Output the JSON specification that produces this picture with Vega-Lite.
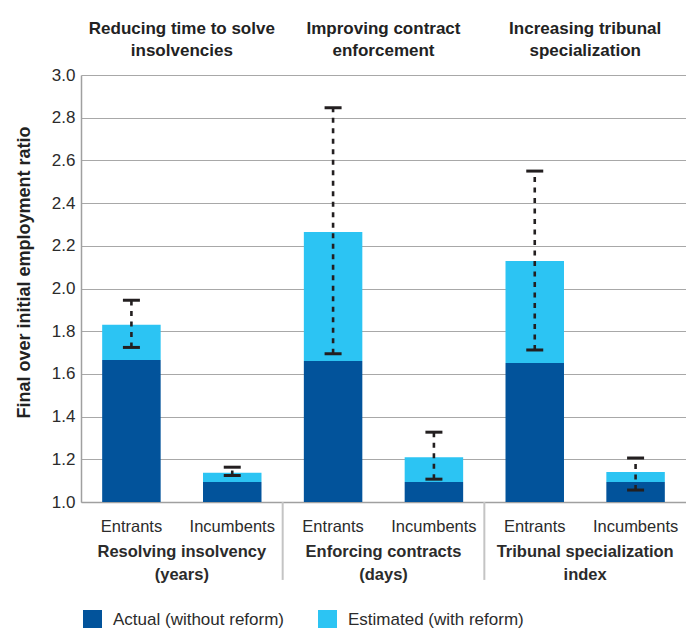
{
  "$schema": "https://vega.github.io/schema/vega-lite/v6.json",
  "autosize": {"type": "none"},
  "width": 605,
  "height": 427,
  "padding": {"left": 81, "top": 75, "right": 0, "bottom": 126},
  "config": {
    "font": "Liberation Sans",
    "view": {"stroke": null},
    "axis": {"domainColor": "#a0a0a0", "gridColor": "#a8a8a8", "labelColor": "#2b2b2b", "titleColor": "#222222"},
    "axisX": {"grid": false, "ticks": false, "labelFontSize": 16.5, "labelFontWeight": "bold", "labelPadding": 54, "labelBaseline": "alphabetic", "labelLineHeight": 23, "labelAngle": 0, "labelLimit": 0, "domainWidth": 1.5},
    "axisY": {"grid": true, "ticks": false, "labelFontSize": 17, "labelPadding": 6, "titleFontSize": 18, "titleFontWeight": "bold", "titlePadding": 18, "titleY": 197, "tickCount": 10, "domainWidth": 1.5}
  },
  "data": {
    "values": [
      {"metric": "Resolving insolvency|(years)", "header": "Reducing time to solve|insolvencies", "firm": "Entrants", "actual": 1.665, "estimated": 1.83, "low": 1.724, "high": 1.945},
      {"metric": "Resolving insolvency|(years)", "header": "Reducing time to solve|insolvencies", "firm": "Incumbents", "actual": 1.094, "estimated": 1.137, "low": 1.124, "high": 1.163},
      {"metric": "Enforcing contracts|(days)", "header": "Improving contract|enforcement", "firm": "Entrants", "actual": 1.66, "estimated": 2.265, "low": 1.694, "high": 2.847},
      {"metric": "Enforcing contracts|(days)", "header": "Improving contract|enforcement", "firm": "Incumbents", "actual": 1.094, "estimated": 1.21, "low": 1.107, "high": 1.327},
      {"metric": "Tribunal specialization|index", "header": "Increasing tribunal|specialization", "firm": "Entrants", "actual": 1.651, "estimated": 2.129, "low": 1.712, "high": 2.55},
      {"metric": "Tribunal specialization|index", "header": "Increasing tribunal|specialization", "firm": "Incumbents", "actual": 1.094, "estimated": 1.14, "low": 1.056, "high": 1.206}
    ]
  },
  "encoding": {
    "x": {
      "field": "metric", "type": "nominal",
      "scale": {"domain": ["Resolving insolvency|(years)", "Enforcing contracts|(days)", "Tribunal specialization|index"], "paddingInner": 0, "paddingOuter": 0},
      "axis": {"title": null, "labelExpr": "split(datum.label, '|')"}
    }
  },
  "layer": [
    {
      "mark": {"type": "bar"},
      "encoding": {
        "xOffset": {"field": "firm", "type": "nominal", "sort": ["Entrants", "Incumbents"], "scale": {"paddingInner": 0.42, "paddingOuter": 0.21}},
        "y": {"field": "estimated", "type": "quantitative", "scale": {"domain": [1, 3]}, "axis": {"title": "Final over initial employment ratio", "format": ".1f"}},
        "y2": {"field": "actual"},
        "color": {"datum": "Estimated (with reform)", "scale": {"domain": ["Actual (without reform)", "Estimated (with reform)"], "range": ["#02539b", "#2cc4f3"]},
          "legend": {"orient": "none", "legendX": 2, "legendY": 535, "direction": "horizontal", "columns": 2, "title": null, "symbolType": "square", "symbolSize": 361, "symbolStrokeWidth": 0, "labelFontSize": 17, "labelColor": "#2b2b2b", "labelOffset": 11, "labelLimit": 0, "columnPadding": 34, "padding": 0}}
      }
    },
    {
      "mark": {"type": "bar"},
      "encoding": {
        "xOffset": {"field": "firm", "type": "nominal", "sort": ["Entrants", "Incumbents"]},
        "y": {"field": "actual", "type": "quantitative", "scale": {"domain": [1, 3]}, "axis": {"title": "Final over initial employment ratio", "format": ".1f"}},
        "y2": {"datum": 1},
        "color": {"datum": "Actual (without reform)"}
      }
    },
    {
      "mark": {"type": "rule", "color": "#231f20", "strokeWidth": 2.6, "strokeDash": [5, 5.5]},
      "encoding": {
        "xOffset": {"field": "firm", "type": "nominal", "sort": ["Entrants", "Incumbents"]},
        "y": {"field": "low", "type": "quantitative", "scale": {"domain": [1, 3]}, "axis": {"title": "Final over initial employment ratio", "format": ".1f"}},
        "y2": {"field": "high"}
      }
    },
    {
      "mark": {"type": "tick", "orient": "horizontal", "size": 17, "thickness": 3, "color": "#231f20", "opacity": 1},
      "encoding": {
        "xOffset": {"field": "firm", "type": "nominal", "sort": ["Entrants", "Incumbents"]},
        "y": {"field": "low", "type": "quantitative", "scale": {"domain": [1, 3]}, "axis": {"title": "Final over initial employment ratio", "format": ".1f"}}
      }
    },
    {
      "mark": {"type": "tick", "orient": "horizontal", "size": 17, "thickness": 3, "color": "#231f20", "opacity": 1},
      "encoding": {
        "xOffset": {"field": "firm", "type": "nominal", "sort": ["Entrants", "Incumbents"]},
        "y": {"field": "high", "type": "quantitative", "scale": {"domain": [1, 3]}, "axis": {"title": "Final over initial employment ratio", "format": ".1f"}}
      }
    },
    {
      "transform": [{"filter": "datum.firm == 'Entrants' && datum.metric != 'Resolving insolvency|(years)'"}],
      "mark": {"type": "rule", "color": "#c4c4c4", "strokeWidth": 2, "clip": false},
      "encoding": {
        "x": {"field": "metric", "type": "nominal", "bandPosition": 0},
        "y": {"datum": 1, "type": "quantitative"},
        "y2": {"datum": 0.635}
      }
    },
    {
      "mark": {"type": "text", "fontSize": 16.5, "color": "#2b2b2b", "baseline": "alphabetic", "dy": 30, "clip": false},
      "encoding": {
        "xOffset": {"field": "firm", "type": "nominal", "sort": ["Entrants", "Incumbents"]},
        "y": {"datum": 1, "type": "quantitative"},
        "text": {"field": "firm"}
      }
    },
    {
      "transform": [{"filter": "datum.firm == 'Entrants'"}],
      "mark": {"type": "text", "fontSize": 17, "fontWeight": "bold", "color": "#222222", "baseline": "alphabetic", "dy": -41, "lineBreak": "|", "lineHeight": 21.5, "clip": false},
      "encoding": {
        "y": {"datum": 3, "type": "quantitative"},
        "text": {"field": "header"}
      }
    }
  ]
}
